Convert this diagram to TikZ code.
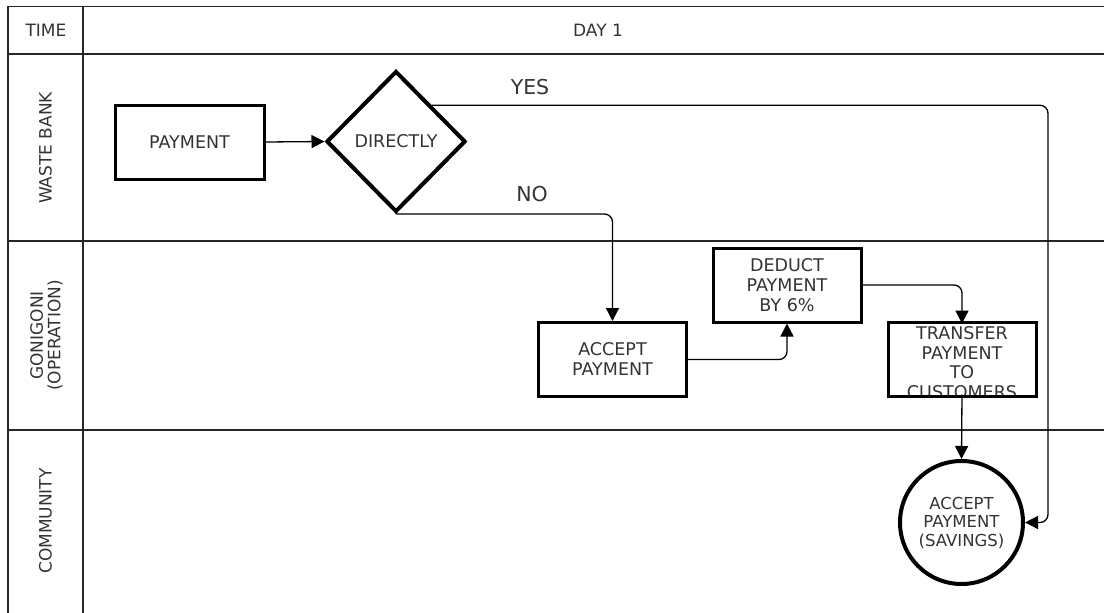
\documentclass[tikz,border=0pt]{standalone}
\usepackage{fontspec}
\setmainfont{DejaVu Sans}
\usetikzlibrary{shapes.geometric,arrows.meta}
\definecolor{txtc}{gray}{0.2}
\begin{document}
\begin{tikzpicture}[x=1pt,y=-1pt,
  lane/.style={line width=1.3pt, draw=black!85},
  lbl/.style={text=txtc, font=\fontsize{17}{18}\selectfont, inner sep=0pt, align=center},
  stepbox/.style={draw, line width=3pt, minimum width=148pt, minimum height=74pt, inner sep=0pt, align=center, text=txtc, font=\fontsize{17.5}{20}\selectfont},
  decision/.style={diamond, draw, line width=4pt, minimum width=139pt, minimum height=141pt, inner sep=0pt, text=txtc, font=\fontsize{17.5}{20}\selectfont},
  terminal/.style={circle, draw, line width=4pt, minimum size=123pt, inner sep=0pt, align=center, text=txtc, font=\fontsize{16.5}{18.5}\selectfont},
  conn/.style={line width=1.3pt, rounded corners=8pt, -{Triangle[length=13pt,width=13pt]}},
  cond/.style={text=txtc, font=\fontsize{20.5}{22}\selectfont, inner sep=0pt}
]
\useasboundingbox (0,0) rectangle (1104,613);
% lanes grid
\draw[lane] (1104,6.5) -- (8,6.5) -- (8,613);
\draw[lane] (83,6.5) -- (83,613);
\draw[lane] (8,54) -- (1104,54);
\draw[lane] (8,241) -- (1104,241);
\draw[lane] (8,430) -- (1104,430);
% lane labels
\node[lbl] (time) at (46,30) {TIME};
\node[lbl] (day) at (598,30) {DAY 1};
\node[lbl, rotate=90] (wb) at (45.5,148) {WASTE BANK};
\node[lbl, rotate=90, font=\fontsize{17}{17.5}\selectfont] (go) at (46.5,335.5) {GONIGONI\\(OPERATION)};
\node[lbl, rotate=90] (cm) at (45.5,521) {COMMUNITY};
% nodes
\node[stepbox, minimum width=149pt] (pay) at (189.5,142) {PAYMENT};
\node[decision] (dir) at (396,141.5) {DIRECTLY};
\node[stepbox] (acc) at (612.5,359.5) {ACCEPT\\PAYMENT};
\node[stepbox] (ded) at (787,285) {DEDUCT\\PAYMENT\\BY 6\%};
\node[stepbox, draw=none, outer sep=0pt] (tr) at (962,359) {};
\begin{scope}
  \clip (tr.north west) rectangle (tr.south east);
  \node[lbl, font=\fontsize{17.5}{19.5}\selectfont] (trt) at (962,362.5) {TRANSFER\\PAYMENT\\TO\\CUSTOMERS};
\end{scope}
\draw[line width=3pt] (tr.north west) rectangle (tr.south east);
\node[terminal] (circ) at (961.5,522.5) {ACCEPT\\PAYMENT\\(SAVINGS)};
\coordinate (yturn) at (1048,522.5);
% connectors
\draw[conn] (pay.east) -- (dir.west);
\draw[conn] (dir.north east) -| (yturn) -- (circ.east);
\node[cond] (yes) at (530,87) {YES};
\draw[conn] (dir.south) -| (acc.north);
\node[cond] (no) at (532,194) {NO};
\draw[conn] (acc.east) -| (ded.south);
\draw[conn] (ded.east) -| ([yshift=-1.5pt]tr.north);
\draw[conn] ([yshift=1.5pt]tr.south) -- (circ.north);
\end{tikzpicture}
\end{document}
